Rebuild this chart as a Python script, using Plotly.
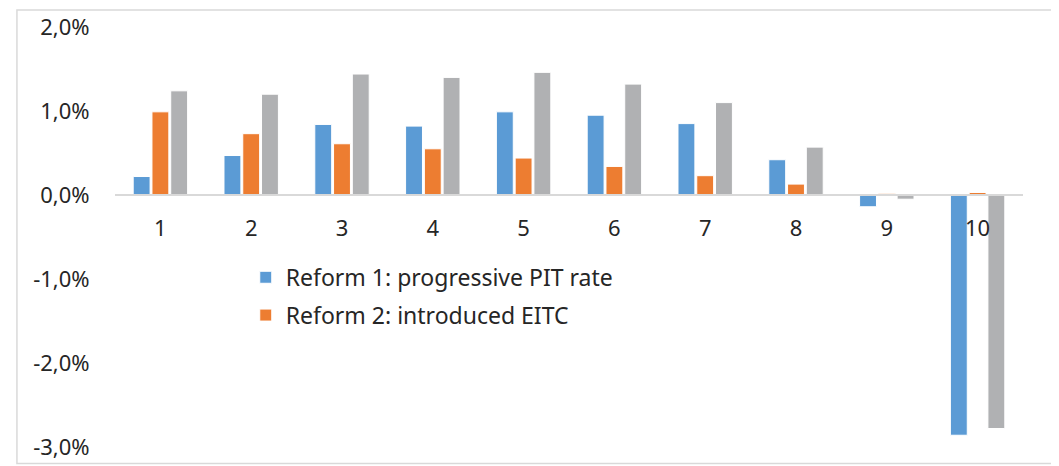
import plotly.graph_objects as go

deciles = ["1", "2", "3", "4", "5", "6", "7", "8", "9", "10"]
reform1 = [0.22, 0.47, 0.84, 0.82, 0.99, 0.95, 0.85, 0.42, -0.14, -2.86]
reform2 = [0.99, 0.73, 0.61, 0.55, 0.44, 0.34, 0.23, 0.13, 0.02, 0.03]
both = [1.24, 1.20, 1.44, 1.40, 1.46, 1.32, 1.10, 0.57, -0.05, -2.78]

y_ticks = [2, 1, 0, -1, -2, -3]
y_tick_text = ["2,0%", "1,0%", "0,0%", "-1,0%", "-2,0%", "-3,0%"]

FONT = "Noto Sans, Open Sans, sans-serif"
TXT = "#262626"

fig = go.Figure()
fig.add_trace(go.Bar(x=deciles, y=reform1, name="Reform 1: progressive PIT rate",
                     marker=dict(color="#5B9BD5", line=dict(color="white", width=1)),
                     legend="legend"))
fig.add_trace(go.Bar(x=deciles, y=reform2, name="Reform 2: introduced EITC",
                     marker=dict(color="#ED7D31", line=dict(color="white", width=1)),
                     legend="legend2"))
fig.add_trace(go.Bar(x=deciles, y=both, name="Reform 1 + 2",
                     marker=dict(color="#B0B1B3", line=dict(color="white", width=1)),
                     showlegend=False))

# light frame around the whole chart area (left, top, bottom edges; right is off-page)
fig.add_shape(type="path", xref="paper", yref="paper",
              path="M 1.3,1.0405 L -0.108,1.0405 L -0.108,-0.039 L 1.3,-0.039",
              line=dict(color="#d9d9d9", width=1.5), layer="below")

legend_style = dict(font=dict(size=23, color=TXT, family=FONT),
                    bgcolor="rgba(0,0,0,0)", borderwidth=0,
                    xanchor="left", yanchor="middle")

# page body keeps its default 8px margin, so the figure is sized to fill the rest
fig.update_layout(
    width=1051, height=458,
    paper_bgcolor="white", plot_bgcolor="white",
    margin=dict(l=107, r=36, t=19, b=19, autoexpand=False),
    barmode="group", bargap=0.38, bargroupgap=0.1,
    font=dict(family=FONT, color=TXT),
    legend=dict(x=0.144, y=0.404, **legend_style),
    legend2=dict(x=0.144, y=0.314, **legend_style),
    xaxis=dict(
        type="category", anchor="free", position=0.6, automargin=False,
        showline=True, linecolor="#d9d9d9", linewidth=2,
        showgrid=False, zeroline=False,
        ticks="outside", ticklen=14, tickcolor="rgba(0,0,0,0)",
        tickfont=dict(size=22, color=TXT, family=FONT),
    ),
    yaxis=dict(
        range=[-3, 2], tickvals=y_ticks, ticktext=y_tick_text, automargin=False,
        showgrid=False, zeroline=False, showline=False,
        ticks="outside", ticklen=20, tickcolor="rgba(0,0,0,0)",
        tickfont=dict(size=22, color=TXT, family=FONT),
    ),
)

fig.write_html("out.html")
